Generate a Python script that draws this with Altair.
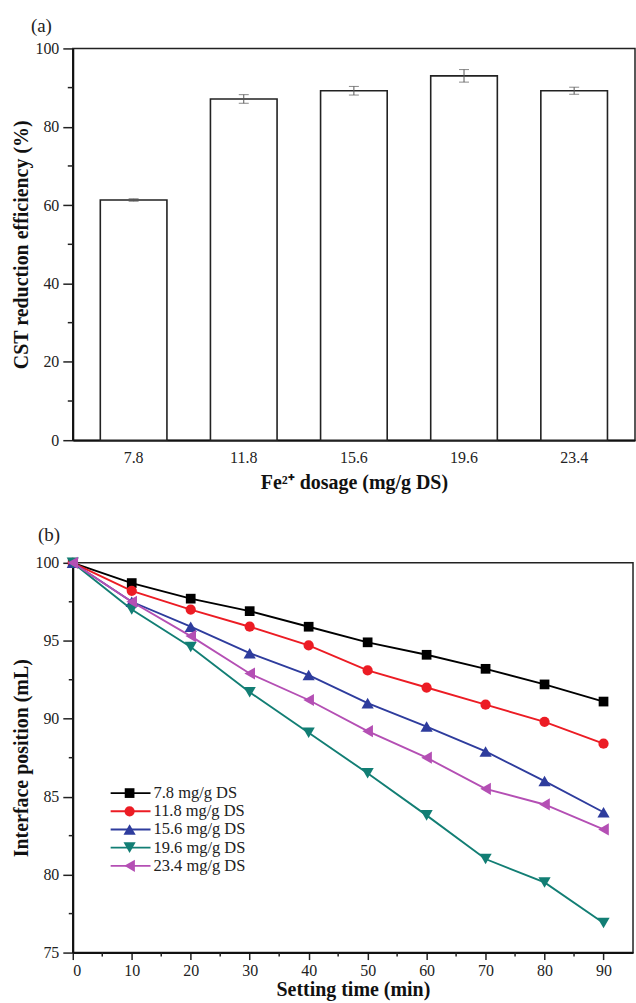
import altair as alt
import pandas as pd

# ---------- data: panel (a) ----------
dosage = ["7.8", "11.8", "15.6", "19.6", "23.4"]
cst_eff = [61.3, 87.1, 89.2, 93.0, 89.2]
cst_err = [0.3, 1.1, 1.1, 1.6, 0.9]
ya_major = [0, 20, 40, 60, 80, 100]
ya_minor = [10, 30, 50, 70, 90]

# ---------- data: panel (b) ----------
time_min = [0, 10, 20, 30, 40, 50, 60, 70, 80, 90]
series_names = ["7.8 mg/g DS", "11.8 mg/g DS", "15.6 mg/g DS", "19.6 mg/g DS", "23.4 mg/g DS"]
s_78 = [100, 98.7, 97.7, 96.9, 95.9, 94.9, 94.1, 93.2, 92.2, 91.1]
s_118 = [100, 98.2, 97.0, 95.9, 94.7, 93.1, 92.0, 90.9, 89.8, 88.4]
s_156 = [100, 97.5, 95.9, 94.2, 92.8, 91.0, 89.5, 87.9, 86.0, 84.0]
s_196 = [100, 97.0, 94.6, 91.7, 89.1, 86.5, 83.8, 81.0, 79.5, 76.9]
s_234 = [100, 97.5, 95.3, 92.9, 91.2, 89.2, 87.5, 85.5, 84.5, 82.9]
series_values = [s_78, s_118, s_156, s_196, s_234]
series_colors = ["#000000", "#ec1c24", "#2e3c9d", "#127e74", "#b44fb4"]
series_shapes = ["square", "circle", "triangle-up", "triangle-down", "triangle-left"]
series_sizes = [95, 105, 150, 150, 150]
xb_major = [0, 10, 20, 30, 40, 50, 60, 70, 80, 90]
xb_minor = [5, 15, 25, 35, 45, 55, 65, 75, 85]
yb_major = [75, 80, 85, 90, 95, 100]
yb_minor = [77.5, 82.5, 87.5, 92.5, 97.5]

FONT = "Liberation Serif"
W1, H1 = 564, 393
W2, H2 = 562, 391

# ---------- panel (a) ----------
dfa = pd.DataFrame({
    "dosage": dosage,
    "eff": cst_eff,
    "lo": [v - e for v, e in zip(cst_eff, cst_err)],
    "hi": [v + e for v, e in zip(cst_eff, cst_err)],
})
xa = alt.X("dosage:N", sort=dosage,
           scale=alt.Scale(paddingInner=0.395, paddingOuter=0.25),
           axis=alt.Axis(title="Fe²⁺ dosage (mg/g DS)", labelAngle=0, ticks=False,
                         labelPadding=9, titlePadding=7))
ya = alt.Y("eff:Q", scale=alt.Scale(domain=[0, 100], nice=False),
           axis=alt.Axis(title="CST reduction efficiency (%)", values=ya_major,
                         tickSize=10, labelPadding=4, titlePadding=3, grid=False))

bars = alt.Chart(dfa).mark_bar(fill="white", stroke="#222", strokeWidth=1.6).encode(x=xa, y=ya)
err_rule = alt.Chart(dfa).mark_rule(color="#555", strokeWidth=1).encode(
    x=alt.X("dosage:N", sort=dosage), y="lo:Q", y2="hi:Q")
err_lo = alt.Chart(dfa).mark_tick(color="#555", size=10, thickness=1).encode(
    x=alt.X("dosage:N", sort=dosage), y="lo:Q")
err_hi = alt.Chart(dfa).mark_tick(color="#555", size=10, thickness=1).encode(
    x=alt.X("dosage:N", sort=dosage), y="hi:Q")
minor_a = alt.Chart(pd.DataFrame({"v": ya_minor})).mark_rule(color="#222", strokeWidth=1.5).encode(
    y="v:Q", x=alt.value(-5), x2=alt.value(0))

panel_a = alt.layer(bars, err_rule, err_lo, err_hi, minor_a).properties(
    width=W1, height=H1,
    title=alt.TitleParams("(a)", anchor="start", frame="group", dx=-42, offset=4,
                          fontSize=19, font=FONT, fontWeight="normal", color="#222"))

# ---------- panel (b) ----------
rows = []
for name, vals in zip(series_names, series_values):
    for t, v in zip(time_min, vals):
        rows.append({"series": name, "time": t, "pos": v})
dfb = pd.DataFrame(rows)

color_b = alt.Color("series:N", scale=alt.Scale(domain=series_names, range=series_colors), legend=None)
xb = alt.X("time:Q", scale=alt.Scale(domain=[0, 95], nice=False),
           axis=alt.Axis(title="Setting time (min)", values=xb_major, tickSize=7,
                         labelPadding=3, titlePadding=1, grid=False))
yb = alt.Y("pos:Q", scale=alt.Scale(domain=[75, 100], nice=False),
           axis=alt.Axis(title="Interface position (mL)", values=yb_major, tickSize=10,
                         labelPadding=4, titlePadding=3, grid=False))

lines = alt.Chart(dfb).mark_line(strokeWidth=1.9).encode(x=xb, y=yb, color=color_b, detail="series:N")
point_layers = []
for name, col, shp, sz in zip(series_names, series_colors, series_shapes, series_sizes):
    point_layers.append(
        alt.Chart(dfb).transform_filter(alt.datum.series == name)
        .mark_point(filled=True, opacity=1, shape=shp, size=sz, color=col)
        .encode(x=xb, y=yb)
    )
minor_bx = alt.Chart(pd.DataFrame({"v": xb_minor})).mark_rule(color="#222", strokeWidth=1.5).encode(
    x="v:Q", y=alt.value(H2), y2=alt.value(H2 + 4))
minor_by = alt.Chart(pd.DataFrame({"v": yb_minor})).mark_rule(color="#222", strokeWidth=1.5).encode(
    y="v:Q", x=alt.value(-4), x2=alt.value(0))
main_b = alt.layer(lines, *point_layers, minor_bx, minor_by)

dleg = pd.DataFrame({"series": series_names})
ly = alt.Y("series:N", sort=series_names,
           scale=alt.Scale(type="point", domain=series_names, range=[231, 304], padding=0),
           axis=None)
leg_rule = alt.Chart(dleg).mark_rule(strokeWidth=1.9).encode(
    y=ly, x=alt.value(38), x2=alt.value(78), color=color_b)
leg_pts = []
for name, col, shp, sz in zip(series_names, series_colors, series_shapes, series_sizes):
    leg_pts.append(
        alt.Chart(dleg).transform_filter(alt.datum.series == name)
        .mark_point(filled=True, opacity=1, shape=shp, size=sz, color=col)
        .encode(y=ly, x=alt.value(57))
    )
leg_txt = alt.Chart(dleg).mark_text(align="left", baseline="middle", fontSize=16.5, font=FONT,
                                    color="#222").encode(
    y=ly, x=alt.value(81), text="series:N")
legend_b = alt.layer(leg_rule, *leg_pts, leg_txt)

panel_b = alt.layer(main_b, legend_b).resolve_scale(y="independent").properties(
    width=W2, height=H2,
    title=alt.TitleParams("(b)", anchor="start", frame="group", dx=-35, offset=10,
                          fontSize=19, font=FONT, fontWeight="normal", color="#222"))

chart = alt.vconcat(panel_a, panel_b, spacing=32).properties(
    padding={"left": 11, "top": 15, "right": 0, "bottom": 0},
    background="white",
).configure_view(
    stroke="#222", strokeWidth=1.5
).configure_axis(
    domainColor="#111", domainWidth=2, tickColor="#222", tickWidth=1.5,
    labelFont=FONT, labelFontSize=16, labelColor="#222",
    titleFont=FONT, titleFontSize=20, titleFontWeight="bold", titleColor="#111",
)

chart.save("out.html", embed_options={"renderer": "svg", "actions": False})
